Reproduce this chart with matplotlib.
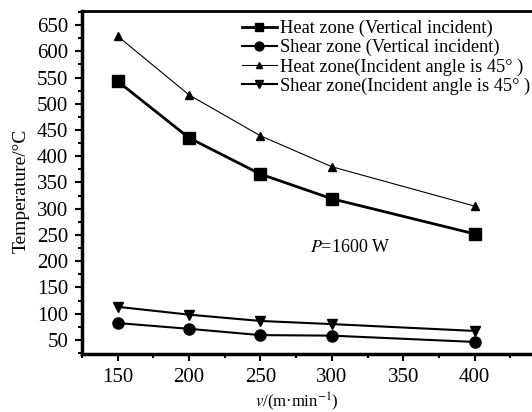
import matplotlib
matplotlib.use("Agg")
import matplotlib.pyplot as plt
from matplotlib.ticker import MultipleLocator

speed = [150, 200, 250, 300, 400]
heat_vertical = [543, 435, 366, 319, 252]
shear_vertical = [82, 71, 59, 58, 46]
heat_45 = [629, 517, 439, 380, 305]
shear_45 = [113, 98, 86, 80, 67]

labels = ["Heat zone (Vertical incident)",
          "Shear zone (Vertical incident)",
          "Heat zone(Incident angle is 45° )",
          "Shear zone(Incident angle is 45° )"]

plt.rcParams['font.family'] = ['Liberation Serif', 'DejaVu Serif']
plt.rcParams['mathtext.fontset'] = 'stix'

W, H = 532, 412
fig = plt.figure(figsize=(W/100, H/100), dpi=100)
ax = fig.add_axes([82/W, 1-354/H, (546-82)/W, (354-11)/H])

ax.plot(speed, heat_vertical, color='black', lw=2.0, marker='s', ms=8, label=labels[0])
ax.plot(speed, shear_vertical, color='black', lw=1.5, marker='o', ms=8, label=labels[1])
ax.plot(speed, heat_45, color='black', lw=0.8, marker='^', ms=6, label=labels[2])
ax.plot(speed, shear_45, color='black', lw=1.5, marker='v', ms=7, label=labels[3])

ax.set_xlim(125, 450)
ax.set_ylim(23, 677)
ax.xaxis.set_major_locator(MultipleLocator(50))
ax.xaxis.set_minor_locator(MultipleLocator(25))
ax.yaxis.set_major_locator(MultipleLocator(50))
ax.yaxis.set_minor_locator(MultipleLocator(25))
ax.set_xticks([150, 200, 250, 300, 350, 400])
ax.tick_params(which='both', direction='out', width=1.5, labelsize=15)
ax.tick_params(which='major', length=5)
ax.tick_params(which='minor', length=3)
ax.tick_params(axis='x', pad=5)
ax.tick_params(axis='y', pad=5)
for s in ['left', 'bottom']:
    ax.spines[s].set_linewidth(2.5)
ax.spines['top'].set_linewidth(2.0)

ax.set_ylabel('Temperature/°C', fontsize=14)
ax.yaxis.set_label_coords((30-82)/(546-82), (354-191)/(354-11))
ax.set_xlabel(r'$v$/(m·min$^{-1}$)', fontsize=12)
ax.xaxis.set_label_coords((297-82)/(546-82), -(391-354)/(354-11))

fig.text(310/W, 1-248/H, r'$P$=1600 W', fontsize=13, ha='left', va='center')

fig.legend(loc='upper left', bbox_to_anchor=(242/W, 1-20/H), frameon=False,
           fontsize=13.2, handlelength=1.9, handletextpad=0.15, labelspacing=0.1,
           borderaxespad=0, borderpad=0, markerscale=0.8)

fig.savefig('out.png', dpi=100)
